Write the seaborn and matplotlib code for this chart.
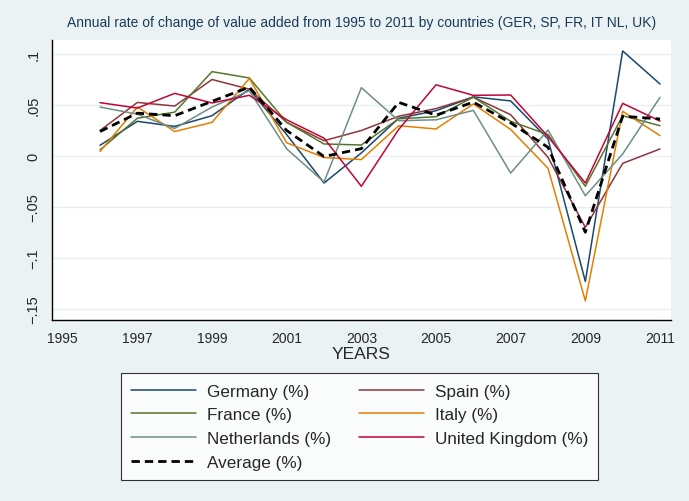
import numpy as np
import pandas as pd
import matplotlib
matplotlib.use("Agg")
import matplotlib.pyplot as plt
import seaborn as sns

years = list(range(1996, 2012))

germany = [0.0105, 0.034, 0.029, 0.0395, 0.0655, 0.021, -0.0265, 0.003, 0.037, 0.0444, 0.058, 0.054, 0.0167, -0.123, 0.103, 0.0706]
spain = [0.025, 0.0525, 0.049, 0.075, 0.0655, 0.033, 0.015, 0.025, 0.039, 0.0465, 0.0577, 0.0405, -0.0013, -0.070, -0.0072, 0.0069]
france = [0.006, 0.037, 0.043, 0.0827, 0.0765, 0.033, 0.0118, 0.0108, 0.0365, 0.0385, 0.0577, 0.034, 0.021, -0.0297, 0.0395, 0.0297]
italy = [0.0045, 0.048, 0.024, 0.033, 0.076, 0.013, -0.0015, -0.0035, 0.0297, 0.0265, 0.051, 0.026, -0.012, -0.142, 0.0438, 0.020]
netherlands = [0.048, 0.041, 0.027, 0.048, 0.064, 0.007, -0.0255, 0.067, 0.0346, 0.0355, 0.0447, -0.0167, 0.0255, -0.039, 0.002, 0.0575]
uk = [0.0523, 0.047, 0.0614, 0.052, 0.0595, 0.0355, 0.0175, -0.0297, 0.026, 0.0698, 0.0595, 0.0598, 0.019, -0.0265, 0.0516, 0.0343]
average = [0.024, 0.042, 0.0395, 0.0536, 0.0675, 0.025, -0.0005, 0.0072, 0.0526, 0.040, 0.0528, 0.0325, 0.0085, -0.0748, 0.039, 0.0363]

series_names = ["Germany (%)", "Spain (%)", "France (%)", "Italy (%)",
                "Netherlands (%)", "United Kingdom (%)"]
series_values = [germany, spain, france, italy, netherlands, uk]
series_colors = ["#1a476f", "#90353b", "#55752f", "#e37e00", "#6e8e84", "#c10534"]

y_ticks = [0.1, 0.05, 0, -0.05, -0.1, -0.15]
y_ticklabels = [".1", ".05", "0", "\u2212.05", "\u2212.1", "\u2212.15"]
x_ticks = list(range(1995, 2012, 2))

sns.set_style("white")
plt.rcParams["font.family"] = ["Liberation Sans", "DejaVu Sans"]

bg = "#eaf2f3"
fig = plt.figure(figsize=(6.89, 5.02), dpi=100, facecolor=bg)
ax = fig.add_axes([51.7 / 689, 1 - 321 / 502, (671 - 51.7) / 689, (321 - 40.7) / 502])
ax.set_facecolor("white")

df = pd.DataFrame({"year": years})
for name, vals, col in zip(series_names, series_values, series_colors):
    df[name] = vals
    sns.lineplot(data=df, x="year", y=name, color=col, lw=1.1, ax=ax, label=name)
df["Average (%)"] = average
sns.lineplot(data=df, x="year", y="Average (%)", color="black", lw=2.0, ax=ax,
             label="Average (%)", dashes=False)
ax.lines[-1].set_linestyle((0, (3.0, 1.8)))

ax.set_xlim(1995 - 11 / 37.33, 2011 + 11 / 37.33)
ax.set_ylim(-0.15 - 11 / 1020, 0.1 + 14.3 / 1020)

ax.set_yticks(y_ticks)
ax.set_yticklabels(y_ticklabels, rotation=90, va="center", fontsize=10.5)
ax.set_xticks(x_ticks)
ax.set_xticklabels([str(x) for x in x_ticks], fontsize=10)
ax.tick_params(axis="both", direction="out", length=5, width=0.8, color="#555555", pad=3)
ax.yaxis.grid(True, color="#e6eef0", lw=1.0)
ax.xaxis.grid(False)

for s in ["top", "right"]:
    ax.spines[s].set_visible(False)
for s in ["left", "bottom"]:
    ax.spines[s].set_color("black")
    ax.spines[s].set_linewidth(1.0)

ax.set_xlabel("YEARS", fontsize=12.5, labelpad=1)
ax.set_ylabel("")
ax.set_title("Annual rate of change of value added from 1995 to 2011 by countries (GER, SP, FR, IT NL, UK)",
             fontsize=10, color="#1a3a5a", pad=10)

handles, labels = ax.get_legend_handles_labels()
ax.get_legend().remove()
order = [0, 2, 4, 6, 1, 3, 5]
leg = fig.legend([handles[i] for i in order], [labels[i] for i in order],
                 ncol=2, loc="upper left", bbox_to_anchor=(120.7 / 689, 1 - 374.3 / 502),
                 fontsize=12.3, frameon=True, fancybox=False, edgecolor="black",
                 handlelength=3.8, handletextpad=0.66, columnspacing=1.6,
                 labelspacing=0.52, borderpad=0.6, borderaxespad=0)
leg.get_frame().set_linewidth(0.8)
leg.get_frame().set_facecolor("white")

fig.savefig("out.png", dpi=100, facecolor=bg)
